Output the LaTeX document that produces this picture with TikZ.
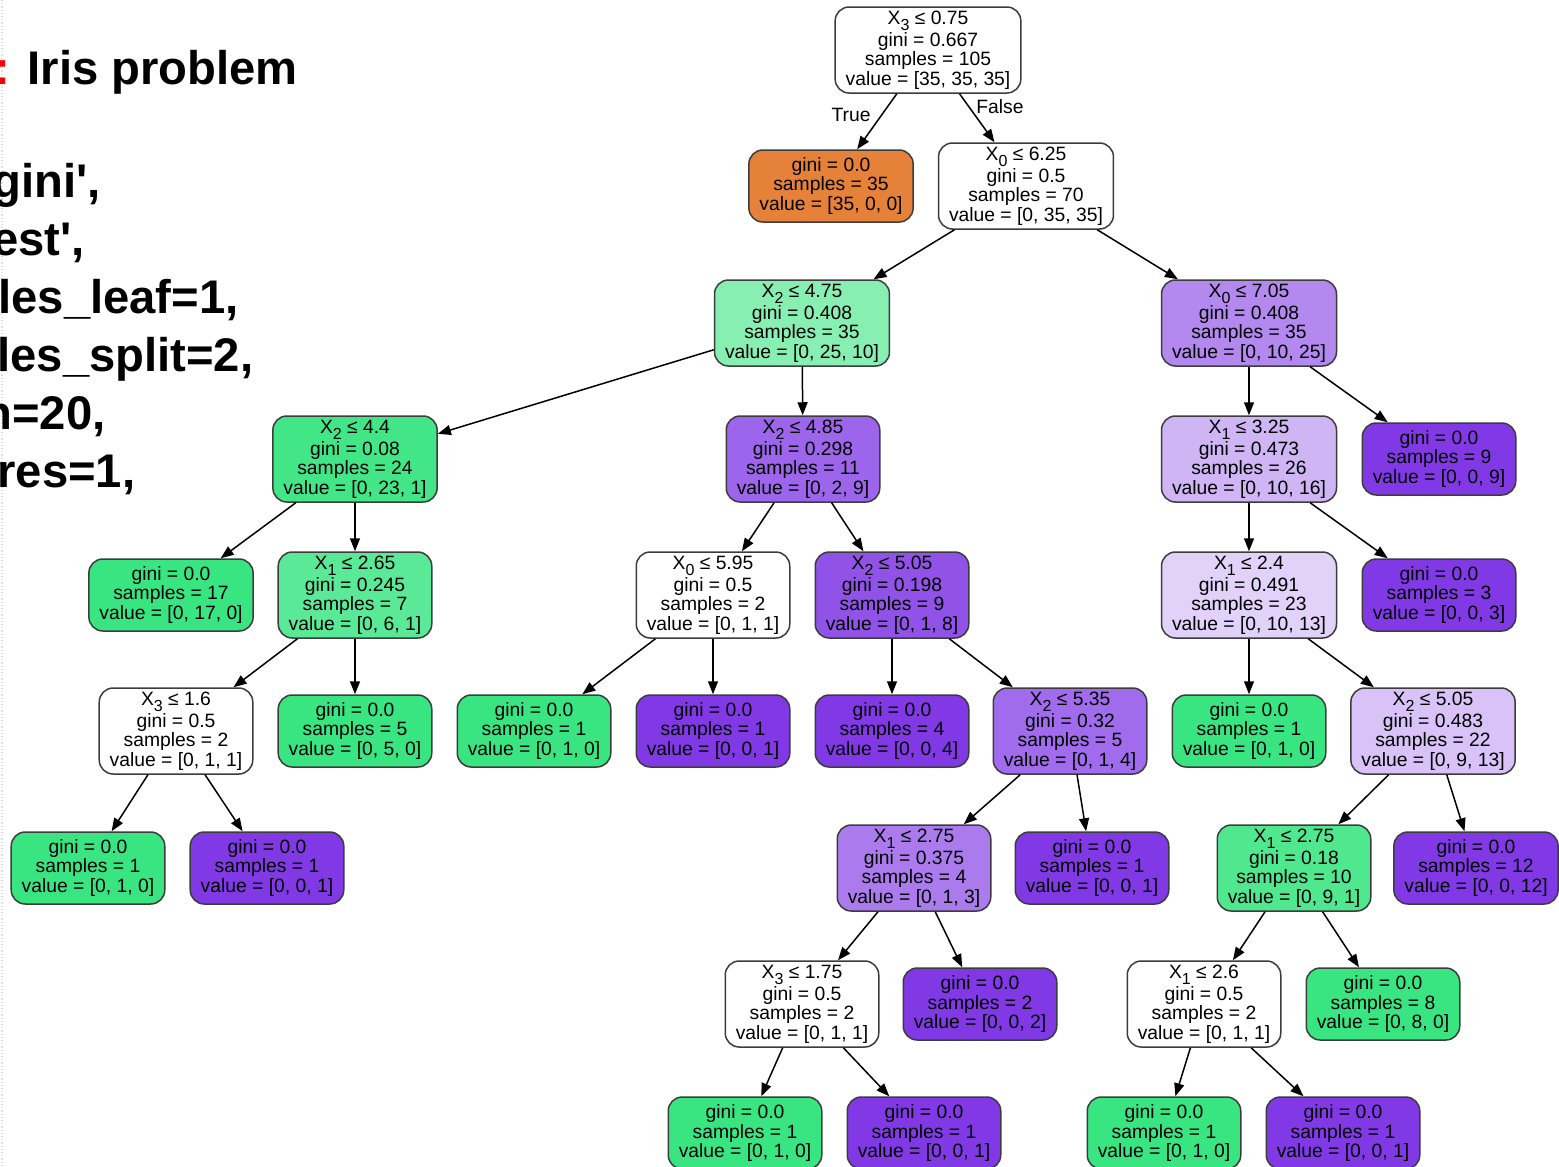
\documentclass[tikz,border=0pt]{standalone}
\usepackage{fontspec}
\setmainfont{Liberation Sans}
\newfontfamily\treefont{Liberation Sans}
\newfontfamily\slidefont{Liberation Sans}
\usetikzlibrary{arrows.meta}

% class colours (orange / green / purple) and their blends towards white
\definecolor{clsA}{RGB}{229,129,57}
\definecolor{clsB}{RGB}{57,229,129}
\definecolor{clsC}{RGB}{129,57,229}
\definecolor{gA}{RGB}{136,239,179}   % [0,25,10]
\definecolor{gB}{RGB}{66,230,134}    % [0,23,1]
\definecolor{gC}{RGB}{90,233,150}    % [0,6,1]
\definecolor{gD}{RGB}{79,232,143}    % [0,9,1]
\definecolor{pA}{RGB}{179,136,239}   % [0,10,25]
\definecolor{pB}{RGB}{157,101,235}   % [0,2,9]
\definecolor{pC}{RGB}{208,181,245}   % [0,10,16]
\definecolor{pD}{RGB}{145,82,232}    % [0,1,8]
\definecolor{pE}{RGB}{226,209,249}   % [0,10,13]
\definecolor{pF}{RGB}{160,107,236}   % [0,1,4]
\definecolor{pG}{RGB}{216,194,247}   % [0,9,13]
\definecolor{pH}{RGB}{171,123,238}   % [0,1,3]
\definecolor{edgegray}{RGB}{60,60,60}
\definecolor{slidered}{RGB}{255,0,0}

\newcommand\Xsub[1]{X\raisebox{-0.32em}{\fontsize{8}{8}\selectfont #1}}

\tikzset{
  tnode/.style={draw=edgegray, line width=0.75pt, rounded corners=7pt,
    align=center, inner xsep=5.25pt, inner ysep=0pt,
    font=\treefont\fontsize{9.65}{9.65}\selectfont},
  splitnode/.style={tnode, minimum height=43pt},
  leafnode/.style={tnode, minimum height=36pt},
  edge/.style={draw=black, line width=0.75pt, -{Triangle[length=6.5pt,width=5pt]}},
  elabel/.style={font=\treefont\fontsize{9.65}{9.65}\selectfont, inner sep=0pt},
  slidetext/.style={font=\slidefont\bfseries\fontsize{23.6}{23.6}\selectfont,
    inner sep=0pt, anchor=base west},
}

\begin{document}
\begin{tikzpicture}[x=0.5pt, y=-0.5pt]
\useasboundingbox (0,0) rectangle (1559,1167);
\fill[white] (0,0) rectangle (1559,1167);
\draw[gray!25, line width=0.6pt, densely dotted] (2,0) -- (2,1167);

% slide text on the left
\node[slidetext] (title) at (-6,84) {\textcolor{slidered}{:} Iris problem};
\node[slidetext] (p1) at (-8,197) {gini',};
\node[slidetext] (p2) at (-8,255) {est',};
\node[slidetext] (p3) at (-2,313) {les\_leaf=1,};
\node[slidetext] (p4) at (-3,371) {les\_split=2,};
\node[slidetext] (p5) at (-17,429) {n=20,};
\node[slidetext] (p6) at (-3,487) {res=1,};

% tree
\node[splitnode, fill=white] (root) at (928,50) {\Xsub{3} ≤ 0.75\\gini = 0.667\\samples = 105\\value = [35, 35, 35]};
\node[leafnode, fill=clsA] (n1) at (831,186) {gini = 0.0\\samples = 35\\value = [35, 0, 0]};
\node[splitnode, fill=white] (n2) at (1026,186) {\Xsub{0} ≤ 6.25\\gini = 0.5\\samples = 70\\value = [0, 35, 35]};

\node[splitnode, fill=gA] (n3) at (802,323) {\Xsub{2} ≤ 4.75\\gini = 0.408\\samples = 35\\value = [0, 25, 10]};
\node[splitnode, fill=pA] (n4) at (1249,323) {\Xsub{0} ≤ 7.05\\gini = 0.408\\samples = 35\\value = [0, 10, 25]};

\node[splitnode, fill=gB] (n5) at (355,459) {\Xsub{2} ≤ 4.4\\gini = 0.08\\samples = 24\\value = [0, 23, 1]};
\node[splitnode, fill=pB] (n6) at (803,459) {\Xsub{2} ≤ 4.85\\gini = 0.298\\samples = 11\\value = [0, 2, 9]};
\node[splitnode, fill=pC] (n7) at (1249,459) {\Xsub{1} ≤ 3.25\\gini = 0.473\\samples = 26\\value = [0, 10, 16]};
\node[leafnode, fill=clsC] (n8) at (1439,459) {gini = 0.0\\samples = 9\\value = [0, 0, 9]};

\node[leafnode, fill=clsB] (n9) at (171,595) {gini = 0.0\\samples = 17\\value = [0, 17, 0]};
\node[splitnode, fill=gC] (n10) at (355,595) {\Xsub{1} ≤ 2.65\\gini = 0.245\\samples = 7\\value = [0, 6, 1]};
\node[splitnode, fill=white] (n11) at (713,595) {\Xsub{0} ≤ 5.95\\gini = 0.5\\samples = 2\\value = [0, 1, 1]};
\node[splitnode, fill=pD] (n12) at (892,595) {\Xsub{2} ≤ 5.05\\gini = 0.198\\samples = 9\\value = [0, 1, 8]};
\node[splitnode, fill=pE] (n13) at (1249,595) {\Xsub{1} ≤ 2.4\\gini = 0.491\\samples = 23\\value = [0, 10, 13]};
\node[leafnode, fill=clsC] (n14) at (1439,595) {gini = 0.0\\samples = 3\\value = [0, 0, 3]};

\node[splitnode, fill=white] (n15) at (176,731) {\Xsub{3} ≤ 1.6\\gini = 0.5\\samples = 2\\value = [0, 1, 1]};
\node[leafnode, fill=clsB] (n16) at (355,731) {gini = 0.0\\samples = 5\\value = [0, 5, 0]};
\node[leafnode, fill=clsB] (n17) at (534,731) {gini = 0.0\\samples = 1\\value = [0, 1, 0]};
\node[leafnode, fill=clsC] (n18) at (713,731) {gini = 0.0\\samples = 1\\value = [0, 0, 1]};
\node[leafnode, fill=clsC] (n19) at (892,731) {gini = 0.0\\samples = 4\\value = [0, 0, 4]};
\node[splitnode, fill=pF] (n20) at (1070,731) {\Xsub{2} ≤ 5.35\\gini = 0.32\\samples = 5\\value = [0, 1, 4]};
\node[leafnode, fill=clsB] (n21) at (1249,731) {gini = 0.0\\samples = 1\\value = [0, 1, 0]};
\node[splitnode, fill=pG] (n22) at (1433,731) {\Xsub{2} ≤ 5.05\\gini = 0.483\\samples = 22\\value = [0, 9, 13]};

\node[leafnode, fill=clsB] (n23) at (88,868) {gini = 0.0\\samples = 1\\value = [0, 1, 0]};
\node[leafnode, fill=clsC] (n24) at (267,868) {gini = 0.0\\samples = 1\\value = [0, 0, 1]};
\node[splitnode, fill=pH] (n25) at (914,868) {\Xsub{1} ≤ 2.75\\gini = 0.375\\samples = 4\\value = [0, 1, 3]};
\node[leafnode, fill=clsC] (n26) at (1092,868) {gini = 0.0\\samples = 1\\value = [0, 0, 1]};
\node[splitnode, fill=gD] (n27) at (1294,868) {\Xsub{1} ≤ 2.75\\gini = 0.18\\samples = 10\\value = [0, 9, 1]};
\node[leafnode, fill=clsC] (n28) at (1476,868) {gini = 0.0\\samples = 12\\value = [0, 0, 12]};

\node[splitnode, fill=white] (n29) at (802,1004) {\Xsub{3} ≤ 1.75\\gini = 0.5\\samples = 2\\value = [0, 1, 1]};
\node[leafnode, fill=clsC] (n30) at (980,1004) {gini = 0.0\\samples = 2\\value = [0, 0, 2]};
\node[splitnode, fill=white] (n31) at (1204,1004) {\Xsub{1} ≤ 2.6\\gini = 0.5\\samples = 2\\value = [0, 1, 1]};
\node[leafnode, fill=clsB] (n32) at (1383,1004) {gini = 0.0\\samples = 8\\value = [0, 8, 0]};

\node[leafnode, fill=clsB] (n33) at (745,1133) {gini = 0.0\\samples = 1\\value = [0, 1, 0]};
\node[leafnode, fill=clsC] (n34) at (924,1133) {gini = 0.0\\samples = 1\\value = [0, 0, 1]};
\node[leafnode, fill=clsB] (n35) at (1164,1133) {gini = 0.0\\samples = 1\\value = [0, 1, 0]};
\node[leafnode, fill=clsC] (n36) at (1343,1133) {gini = 0.0\\samples = 1\\value = [0, 0, 1]};

% connectors
\draw[edge] (root) -- (n1);
\draw[edge] (root) -- (n2);
\node[elabel] (ltrue) at (851,115) {True};
\node[elabel] (lfalse) at (1000,107) {False};
\foreach \a/\b in {n2/n3, n2/n4, n3/n5, n3/n6, n4/n7, n4/n8,
                   n5/n9, n5/n10, n6/n11, n6/n12, n7/n13, n7/n14,
                   n10/n15, n10/n16, n11/n17, n11/n18, n12/n19, n12/n20,
                   n13/n21, n13/n22, n15/n23, n15/n24, n20/n25, n20/n26,
                   n22/n27, n22/n28, n25/n29, n25/n30, n27/n31, n27/n32,
                   n29/n33, n29/n34, n31/n35, n31/n36}
  \draw[edge] (\a) -- (\b);
\end{tikzpicture}
\end{document}
